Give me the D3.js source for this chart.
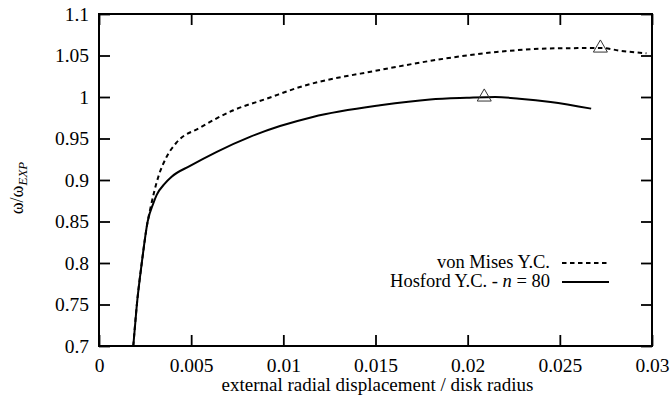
<!DOCTYPE html>
<html>
<head>
<meta charset="utf-8">
<script src="https://cdn.jsdelivr.net/npm/d3@7"></script>
<style>
  body { margin: 0; background: #fff; }
  svg text { font-family: "Liberation Serif", "Times New Roman", serif; fill: #000; }
</style>
</head>
<body>
<div id="chart"></div>
<script>
// Tick values and labels
const xTicks = [0, 0.005, 0.01, 0.015, 0.02, 0.025, 0.03];
const xTickLabels = ["0", "0.005", "0.01", "0.015", "0.02", "0.025", "0.03"];
const yTicks = [0.7, 0.75, 0.8, 0.85, 0.9, 0.95, 1, 1.05, 1.1];
const yTickLabels = ["0.7", "0.75", "0.8", "0.85", "0.9", "0.95", "1", "1.05", "1.1"];

// von Mises Y.C. (dashed)
const vonMisesX = [0.00186, 0.00205, 0.00232, 0.00264, 0.00277, 0.00322, 0.00367, 0.0042, 0.00548, 0.00729, 0.0091, 0.0109, 0.01524, 0.01886, 0.02212, 0.02483, 0.0273, 0.02826, 0.0297];
const vonMisesY = [0.700, 0.749, 0.800, 0.850, 0.864, 0.904, 0.928, 0.945, 0.963, 0.984, 0.998, 1.012, 1.0325, 1.0466, 1.0554, 1.0587, 1.059, 1.0558, 1.0527];

// Hosford Y.C. - n = 80 (solid)
const hosfordX = [0.00186, 0.00205, 0.00232, 0.00264, 0.00295, 0.00313, 0.00358, 0.00394, 0.00494, 0.00639, 0.00819, 0.00982, 0.0116, 0.01525, 0.01796, 0.01995, 0.0215, 0.0228, 0.0245, 0.0267];
const hosfordY = [0.700, 0.749, 0.800, 0.850, 0.872, 0.882, 0.896, 0.904, 0.917, 0.934, 0.952, 0.965, 0.976, 0.990, 0.997, 0.999, 1.000, 0.998, 0.994, 0.986];

// experimental points (open triangles)
const markerX = [0.0209, 0.0272];
const markerY = [1.0, 1.059];

const W = 671, H = 404;
const margin = { top: 14, right: 19, bottom: 58, left: 99 };
const width = W - margin.left - margin.right;
const height = H - margin.top - margin.bottom;
const serif = '"Liberation Serif", "Times New Roman", serif';

const svg = d3.select('#chart')
    .append('svg')
    .attr('width', W)
    .attr('height', H);

const g = svg.append('g')
    .attr('transform', `translate(${margin.left}, ${margin.top})`);

const x = d3.scaleLinear().domain([0, 0.03]).range([0, width]);
const y = d3.scaleLinear().domain([0.7, 1.1]).range([height, 0]);

// axes, ticks pointing inward on all four sides
const tickLen = 11;
const fmtX = (d, i) => xTickLabels[i];
const fmtY = (d, i) => yTickLabels[i];

const axB = g.append('g').attr('transform', `translate(0, ${height})`)
    .call(d3.axisBottom(x).tickValues(xTicks).tickFormat(fmtX).tickSizeInner(-tickLen).tickSizeOuter(0));
const axT = g.append('g')
    .call(d3.axisTop(x).tickValues(xTicks).tickFormat('').tickSizeInner(-tickLen).tickSizeOuter(0));
const axL = g.append('g')
    .call(d3.axisLeft(y).tickValues(yTicks).tickFormat(fmtY).tickSizeInner(-tickLen).tickSizeOuter(0).tickPadding(10));
const axR = g.append('g').attr('transform', `translate(${width}, 0)`)
    .call(d3.axisRight(y).tickValues(yTicks).tickFormat('').tickSizeInner(-tickLen).tickSizeOuter(0));

[axB, axT, axL, axR].forEach(a => {
    a.attr('font-family', serif).attr('font-size', 19.5);
    a.select('.domain').remove();
    a.selectAll('line').attr('stroke', '#000').attr('stroke-width', 1.8);
});
axL.selectAll('text').attr('dy', '0.33em');
axB.selectAll('text').attr('y', 26).attr('dy', 0);

// frame
g.append('rect')
    .attr('x', 0).attr('y', 0)
    .attr('width', width).attr('height', height)
    .attr('fill', 'none')
    .attr('stroke', '#000')
    .attr('stroke-width', 2);

// curves
const line = d3.line()
    .x(d => x(d[0]))
    .y(d => y(d[1]))
    .curve(d3.curveMonotoneX);

g.append('path')
    .datum(vonMisesX.map((v, i) => [v, vonMisesY[i]]))
    .attr('d', line)
    .attr('fill', 'none')
    .attr('stroke', '#000')
    .attr('stroke-width', 2)
    .attr('stroke-dasharray', '4.5,3.5');

g.append('path')
    .datum(hosfordX.map((v, i) => [v, hosfordY[i]]))
    .attr('d', line)
    .attr('fill', 'none')
    .attr('stroke', '#000')
    .attr('stroke-width', 2);

// triangles
const tri = d3.symbol().type(d3.symbolTriangle).size(85);
g.selectAll('.mark')
    .data(markerX.map((v, i) => [v, markerY[i]]))
    .enter()
    .append('path')
    .attr('class', 'mark')
    .attr('d', tri)
    .attr('transform', d => `translate(${x(d[0])}, ${y(d[1])})`)
    .attr('fill', 'none')
    .attr('stroke', '#333')
    .attr('stroke-width', 1);

// legend
const legend = svg.append('g').attr('font-family', serif).attr('font-size', 18.5);
const legendItems = [
    { dash: '4.5,3.5', y: 263 },
    { dash: null, y: 282 }
];
legend.append('text')
    .attr('x', 550).attr('y', 268)
    .attr('text-anchor', 'end')
    .text('von Mises Y.C.');
const hosText = legend.append('text')
    .attr('x', 550).attr('y', 287)
    .attr('text-anchor', 'end');
hosText.append('tspan').text('Hosford Y.C. - ');
hosText.append('tspan').style('font-style', 'italic').text('n');
hosText.append('tspan').text(' = 80');
legendItems.forEach(d => {
    legend.append('line')
        .attr('x1', 562).attr('x2', 609)
        .attr('y1', d.y).attr('y2', d.y)
        .attr('stroke', '#000')
        .attr('stroke-width', 2)
        .attr('stroke-dasharray', d.dash);
});

// axis titles
svg.append('text')
    .attr('x', margin.left + width / 2 + 2)
    .attr('y', 391)
    .attr('text-anchor', 'middle')
    .attr('font-family', serif)
    .attr('font-size', 19)
    .text('external radial displacement / disk radius');

const yl = svg.append('text')
    .attr('transform', 'translate(23, 188) rotate(-90)')
    .attr('text-anchor', 'middle')
    .attr('font-family', serif)
    .attr('font-size', 18);
yl.append('tspan').text('ω/ω');
yl.append('tspan').attr('dy', 4).style('font-size', '13px').style('font-style', 'italic').text('EXP');
</script>
</body>
</html>
